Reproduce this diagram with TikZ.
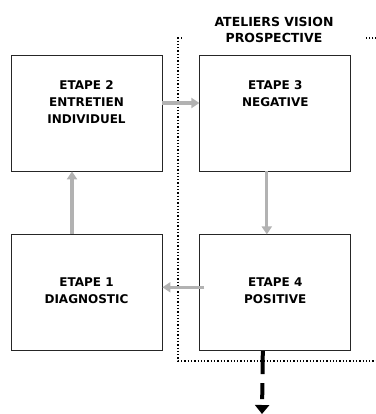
\documentclass[tikz,border=0pt]{standalone}
\usepackage{fontspec}
\setmainfont{DejaVu Sans}
\usetikzlibrary{positioning,arrows.meta}
\tikzset{
  stepbox/.style={draw=black!85, line width=0.8pt, minimum width=151pt, minimum height=116pt, inner sep=0pt},
  steplabel/.style={font=\bfseries\fontsize{12}{17}\selectfont, align=center, inner sep=0pt, anchor=north},
  flow/.style={draw=black!30, line width=3.2pt, -{Triangle[width=10pt,length=8pt]}},
  exit/.style={draw=black, line width=4pt, dash pattern=on 23pt off 9pt on 16pt off 20pt, -{Triangle[width=14pt,length=9pt]}},
}
\begin{document}
\begin{tikzpicture}[x=1pt,y=-1pt]
  \useasboundingbox (0,0) rectangle (375,414);
  % cadre des ateliers
  \draw[dotted, line width=1.3pt] (380,38) -- (178,38) -- (178,361) -- (380,361);
  \node[steplabel, font=\bfseries\fontsize{12.5}{16.5}\selectfont, fill=white, minimum width=184pt] (titre) at (274,17) {ATELIERS VISION\\PROSPECTIVE};
  % etapes
  \node[stepbox] (e2) at (86.5,113) {};
  \node[stepbox, right=37pt of e2] (e3) {};
  \node[stepbox, below=63pt of e2] (e1) {};
  \node[stepbox, right=37pt of e1] (e4) {};
  \node[steplabel, below=26pt of e2.north] (t2) {ETAPE 2\\ENTRETIEN\\INDIVIDUEL};
  \node[steplabel, below=26pt of e3.north] (t3) {ETAPE 3\\NEGATIVE};
  \node[steplabel, below=43pt of e1.north] (t1) {ETAPE 1\\DIAGNOSTIC};
  \node[steplabel, below=43pt of e4.north] (t4) {ETAPE 4\\POSITIVE};
  % fleches
  \draw[flow] ([yshift=10pt]e2.east) -- ([yshift=10pt]e3.west);
  \draw[flow] ([xshift=-8.5pt]e3.south) -- ([xshift=-8.5pt]e4.north);
  \draw[flow] ([xshift=5pt,yshift=5.5pt]e4.west) -- ([yshift=5.5pt]e1.east);
  \draw[flow] ([xshift=-14.5pt]e1.north) -- ([xshift=-14.5pt]e2.south);
  \coordinate (sortie) at (262,414);
  \draw[exit] ([xshift=-12.5pt]e4.south) -- (sortie);
\end{tikzpicture}
\end{document}
